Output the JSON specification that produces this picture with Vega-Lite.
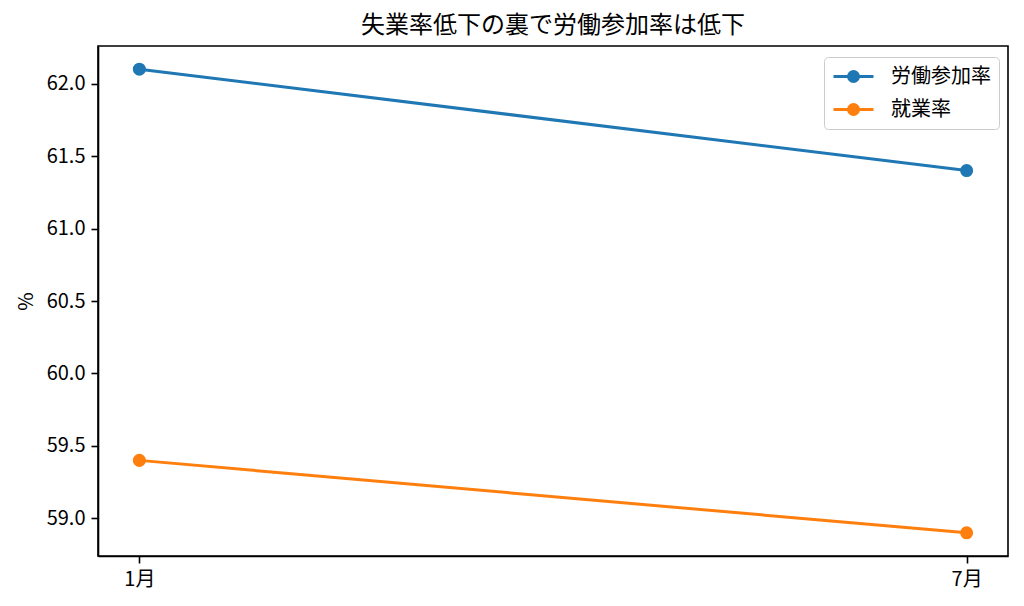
{
  "$schema": "https://vega.github.io/schema/vega-lite/v6.json",
  "width": 910,
  "height": 510,
  "autosize": {"type": "none"},
  "padding": {"left": 98, "top": 46, "right": 16, "bottom": 50},
  "background": "white",
  "config": {
    "font": "Noto Sans CJK JP",
    "view": {"stroke": "black", "strokeWidth": 1.6},
    "axis": {
      "grid": false,
      "labelFontSize": 20,
      "labelColor": "black",
      "tickSize": 7,
      "tickWidth": 1.6,
      "tickColor": "black",
      "domainColor": "black",
      "domainWidth": 1.6,
      "labelPadding": 6,
      "titleFontSize": 20,
      "titleFontWeight": "normal",
      "titleColor": "black"
    }
  },
  "title": {
    "text": "失業率低下の裏で労働参加率は低下",
    "fontSize": 24,
    "fontWeight": "normal",
    "color": "black",
    "offset": 8,
    "anchor": "middle"
  },
  "data": {
    "values": [
      {"month": "1月", "series": "労働参加率", "value": 62.1},
      {"month": "7月", "series": "労働参加率", "value": 61.4},
      {"month": "1月", "series": "就業率", "value": 59.4},
      {"month": "7月", "series": "就業率", "value": 58.9}
    ]
  },
  "encoding": {
    "x": {
      "field": "month",
      "type": "ordinal",
      "sort": ["1月", "7月"],
      "scale": {"type": "point", "padding": 0.05},
      "axis": {"title": null, "labelAngle": 0}
    },
    "y": {
      "field": "value",
      "type": "quantitative",
      "scale": {"domain": [58.74, 62.26], "zero": false, "nice": false},
      "axis": {
        "title": "%",
        "values": [59, 59.5, 60, 60.5, 61, 61.5, 62],
        "format": ".1f",
        "titlePadding": 10
      }
    },
    "color": {
      "field": "series",
      "type": "nominal",
      "sort": ["労働参加率", "就業率"],
      "scale": {"range": ["#1f77b4", "#ff7f0e"]},
      "legend": {
        "title": null,
        "orient": "none",
        "legendX": 726,
        "legendY": 11,
        "strokeColor": "#cccccc",
        "fillColor": "white",
        "cornerRadius": 4,
        "padding": 8,
        "rowPadding": 10,
        "labelFontSize": 20,
        "labelColor": "black",
        "labelOffset": 36,
        "symbolType": "M-1,0L3,0M0.5,0A0.5,0.5,0,1,0,1.5,0A0.5,0.5,0,1,0,0.5,0Z",
        "symbolSize": 400,
        "symbolStrokeWidth": 3,
        "symbolOpacity": 1,
        "encode": {
          "symbols": {
            "update": {
              "fill": {"scale": "color", "field": "value"},
              "stroke": {"scale": "color", "field": "value"},
              "opacity": {"value": 1}
            }
          }
        }
      }
    }
  },
  "layer": [
    {"mark": {"type": "line", "strokeWidth": 3}},
    {"mark": {"type": "point", "filled": true, "size": 170, "opacity": 1}}
  ]
}
